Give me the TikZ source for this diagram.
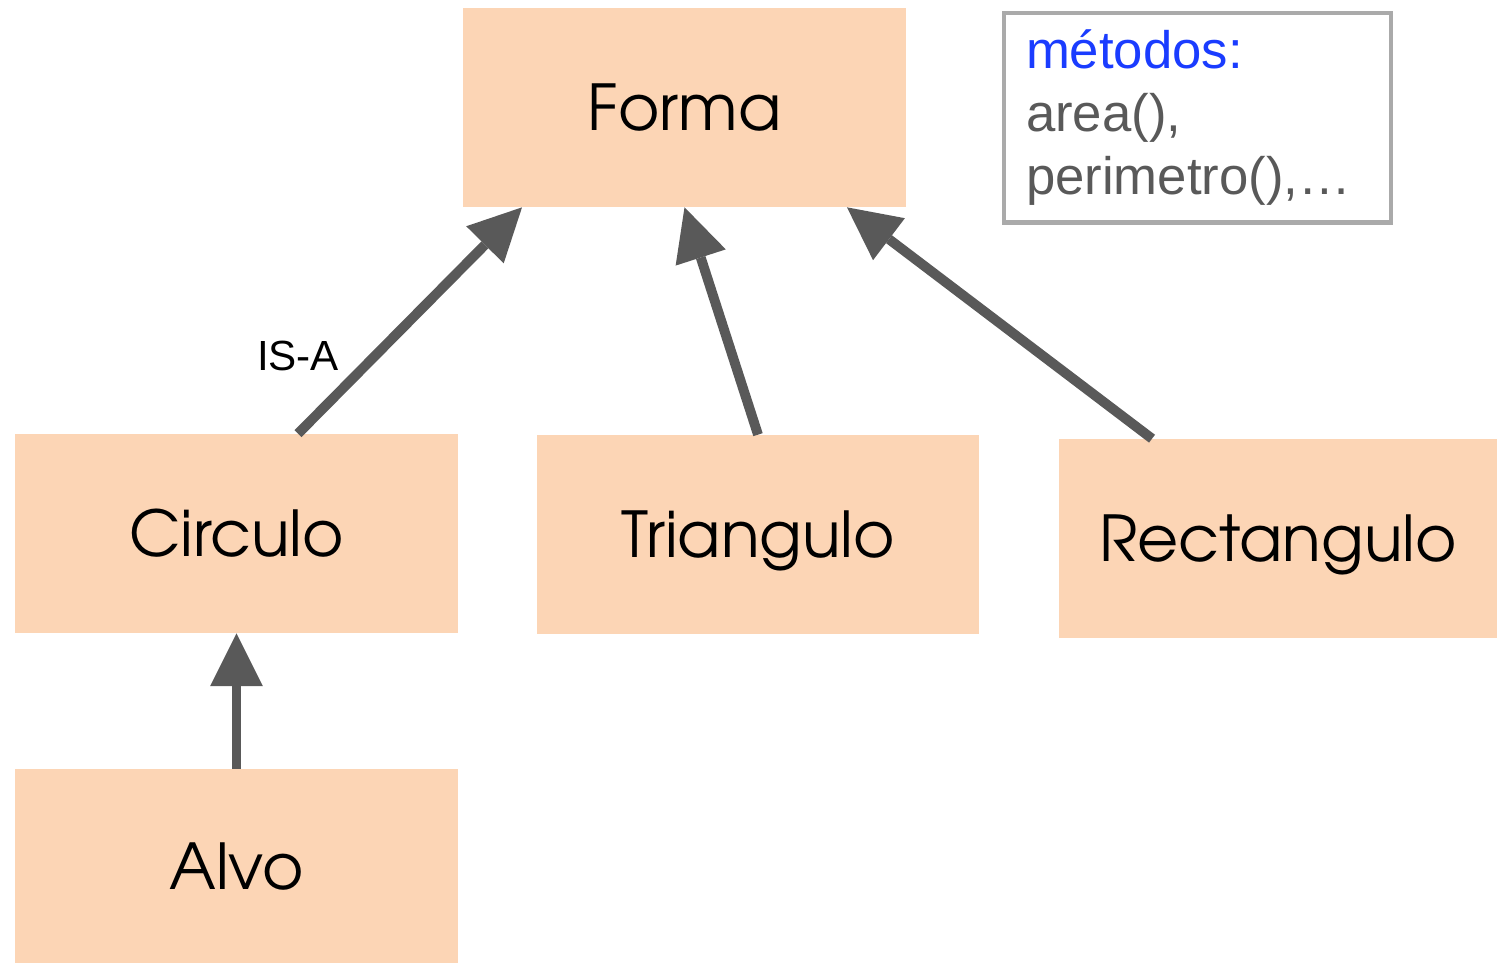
\documentclass[tikz,border=0pt]{standalone}
\usepackage{fontspec}
\usetikzlibrary{arrows.meta,positioning}
\newfontfamily\shapefont{TeX Gyre Adventor}
\newfontfamily\notefont{Liberation Sans}
\definecolor{peach}{HTML}{FCD5B5}
\definecolor{arrowgray}{HTML}{595959}
\definecolor{notegray}{HTML}{AAAAAA}
\definecolor{noteblue}{HTML}{1A3CFF}
\tikzstyle{classbox}=[rectangle,fill=peach,minimum width=8.86cm,minimum height=3.98cm,
                      text height=26.6pt,text depth=0pt,
                      font=\shapefont\fontsize{36}{40}\selectfont]
\tikzstyle{note}=[rectangle,draw=notegray,line width=2.3pt,text=arrowgray,align=left,
                  text width=6.86cm,inner xsep=0.44cm,minimum height=4.2cm,
                  font=\notefont\fontsize{30}{36}\selectfont]
\tikzstyle{isa}=[color=arrowgray,line width=5.6pt,
                 -{Triangle[length=30pt,width=30pt,line width=0pt]}]

\begin{document}
\begin{tikzpicture}[x=0.02cm,y=-0.02cm]
  \useasboundingbox (0,0) rectangle (1497,964);

  \node[classbox]                      (forma)      at (684.5,107.5) {Forma};
  \node[classbox]                      (circulo)    at (236.5,533.5) {Circulo};
  \node[classbox]                      (triangulo)  at (758,534.5)   {Triangulo};
  \node[classbox,minimum width=8.76cm] (rectangulo) at (1278,538.5)  {Rectangulo};
  \node[classbox,minimum height=3.88cm] (alvo)      at (236.5,866)   {Alvo};

  \node[note] (metodos) at (1197.5,117.5)
    {\textcolor{noteblue}{métodos:}\\area(),\\perimetro(),…};

  \path ([xshift=1.23cm]circulo.north) edge[isa] node[pos=0.355,xshift=-1.59cm,yshift=-0.06cm,
              text=black,font=\notefont\fontsize{24}{26}\selectfont] {IS-A} ([xshift=-3.25cm]forma.south)
        (triangulo.north) edge[isa] (forma.south)
        ([xshift=-2.52cm]rectangulo.north) edge[isa] ([xshift=3.25cm]forma.south)
        (alvo.north) edge[isa] (circulo.south);
\end{tikzpicture}
\end{document}
